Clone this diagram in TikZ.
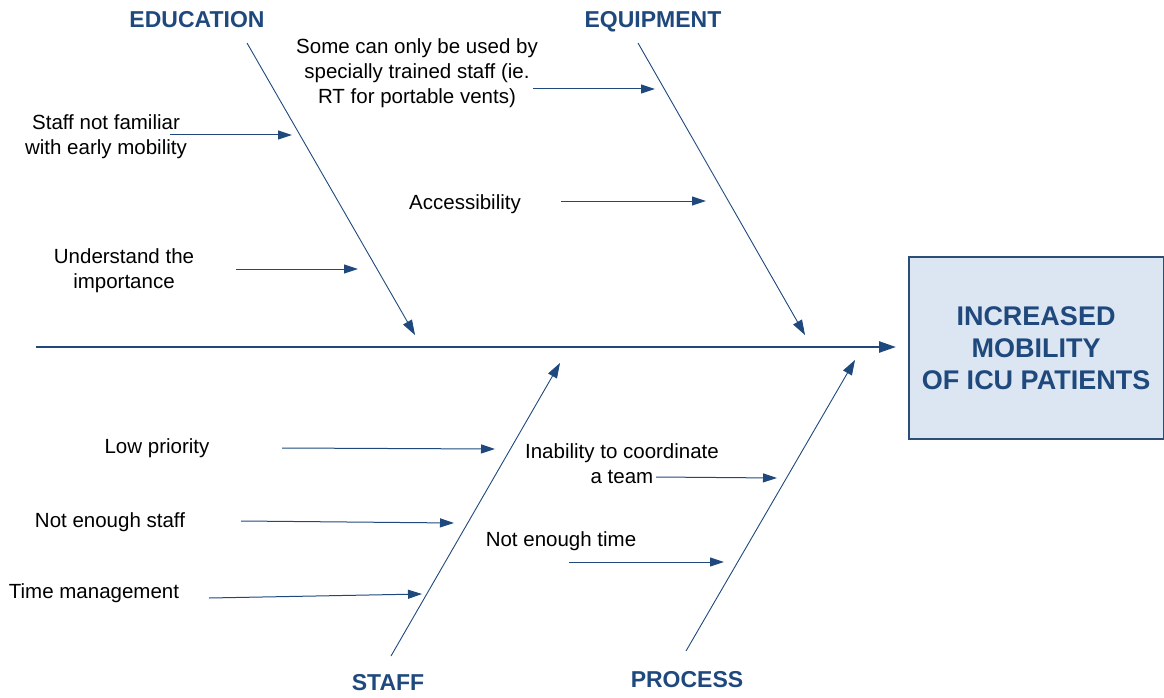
\documentclass[tikz,border=0pt]{standalone}
\usepackage{fontspec}
\setmainfont{Liberation Sans}
\usetikzlibrary{arrows.meta}
\usetikzlibrary{positioning}
\definecolor{fishBlue}{HTML}{1F497D}
\definecolor{boxFill}{HTML}{DCE6F2}
\definecolor{boxLine}{HTML}{2C4D75}

\tikzset{
	cause/.style={font=\fontsize{20.5}{25}\selectfont, align=center, inner sep=0pt},
	category/.style={font=\fontsize{23}{28}\selectfont\bfseries, text=fishBlue, inner sep=0pt, text height=16.5pt, text depth=0pt},
	bone/.style={draw=fishBlue, line width=0.9pt, -{Triangle[length=15pt,width=10pt]}},
	twig/.style={draw=fishBlue, line width=1pt, -{Triangle[length=14pt,width=9pt]}},
	spine/.style={draw=fishBlue, line width=2.5pt, -{Triangle[length=17pt,width=11pt]}}
}

\begin{document}
\begin{tikzpicture}[x=1pt,y=-1pt]
		\useasboundingbox (0,0) rectangle (1164,698);
		
		% effect box
		\node [draw=boxLine, line width=2pt, fill=boxFill, minimum width=255pt, minimum height=182pt,
		       font=\fontsize{27}{32}\selectfont\bfseries, text=fishBlue, align=center] (effect) at (1036,348)
		       {INCREASED\\MOBILITY\\OF ICU PATIENTS};
		
		% spine
		\coordinate (tail) at (36,347);
		\coordinate (head) at (896,347);
		\draw [spine] (tail) -- (head);
		
		% bones
		\coordinate (eduTop) at (247,43);    \coordinate (eduEnd) at (415,335);
		\coordinate (equTop) at (638,43);    \coordinate (equEnd) at (805,335);
		\coordinate (staBot) at (391,656);   \coordinate (staEnd) at (560,363);
		\coordinate (proBot) at (686,651);   \coordinate (proEnd) at (855,360);
		\draw [bone] (eduTop) -- (eduEnd);
		\draw [bone] (equTop) -- (equEnd);
		\draw [bone] (staBot) -- (staEnd);
		\draw [bone] (proBot) -- (proEnd);
		
		% categories
		\node [category] (education) at (197,19) {EDUCATION};
		\node [category] (equipment) at (653,19) {EQUIPMENT};
		\node [category] (staff) at (388,682) {STAFF};
		\node [category] (process) at (687,679) {PROCESS};
		
		% education causes
		\node [cause] (familiar) at (106,137) {Staff not familiar\\with early mobility};
		\node [cause] (importance) at (124,271) {Understand the\\importance};
		\coordinate (familiarS) at (170,135);   \coordinate (familiarE) at (292,135);
		\coordinate (importanceS) at (236,269); \coordinate (importanceE) at (358,269);
		\draw [twig] (familiarS) -- (familiarE);
		\draw [twig] (importanceS) -- (importanceE);
		
		% equipment causes
		\node [cause] (trained) at (417,73) {Some can only be used by\\specially trained staff (ie.\\RT for portable vents)};
		\node [cause] (access) at (465,204) {Accessibility};
		\coordinate (trainedS) at (533,89);   \coordinate (trainedE) at (655,89);
		\coordinate (accessS) at (561,201);   \coordinate (accessE) at (706,201);
		\draw [twig] (trainedS) -- (trainedE);
		\draw [twig] (accessS) -- (accessE);
		
		% staff causes
		\node [cause] (priority) at (157,448) {Low priority};
		\node [cause] (enough) at (110,522) {Not enough staff};
		\node [cause] (manage) at (94,593) {Time management};
		\coordinate (priorityS) at (282,448);  \coordinate (priorityE) at (495,449);
		\coordinate (enoughS) at (241,521);    \coordinate (enoughE) at (454,523);
		\coordinate (manageS) at (209,598);    \coordinate (manageE) at (422,594);
		\draw [twig] (priorityS) -- (priorityE);
		\draw [twig] (enoughS) -- (enoughE);
		\draw [twig] (manageS) -- (manageE);
		
		% process causes
		\node [cause] (team) at (622,464) {Inability to coordinate\\a team};
		\node [cause] (time) at (561,541) {Not enough time};
		\coordinate (teamS) at (656,477);   \coordinate (teamE) at (777,478);
		\coordinate (timeS) at (569,562);   \coordinate (timeE) at (724,562);
		\draw [twig] (teamS) -- (teamE);
		\draw [twig] (timeS) -- (timeE);
\end{tikzpicture}
\end{document}
